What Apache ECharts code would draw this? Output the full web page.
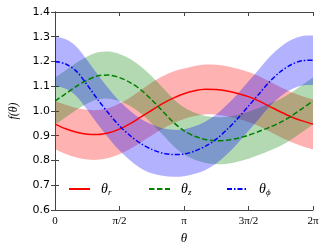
<!DOCTYPE html>
<html><head><meta charset="utf-8">
<script src="https://cdn.jsdelivr.net/npm/echarts@6/dist/echarts.min.js"></script>
<style>html,body{margin:0;padding:0;background:#fff}#c{width:330px;height:250px}</style>
</head><body><div id="c"></div>
<script>
// theta in degrees (0 .. 360)
var thetaDeg = [0,15,30,45,60,75,90,105,120,135,150,165,180,195,210,225,240,255,270,285,300,315,330,345,360];
var xTickLabels = ['0','π/2','π','3π/2','2π'];
var yTickLabels = ['0.6','0.7','0.8','0.9','1.0','1.1','1.2','1.3','1.4'];

var fR   = [0.947,0.928,0.914,0.906,0.905,0.912,0.927,0.949,0.976,1.003,1.030,1.052,1.070,1.082,1.088,1.087,1.081,1.071,1.058,1.040,1.018,0.996,0.976,0.960,0.947];
var fRup = [1.040,1.025,1.012,1.005,1.004,1.012,1.030,1.055,1.085,1.115,1.140,1.160,1.172,1.182,1.188,1.187,1.181,1.171,1.158,1.140,1.118,1.096,1.076,1.060,1.047];
var fRlo = [0.845,0.826,0.812,0.804,0.803,0.810,0.825,0.847,0.874,0.901,0.928,0.950,0.968,0.980,0.986,0.985,0.979,0.969,0.956,0.938,0.916,0.894,0.874,0.858,0.845];

var fZ   = [1.040,1.070,1.100,1.125,1.142,1.145,1.135,1.115,1.085,1.045,1.000,0.955,0.920,0.898,0.885,0.880,0.882,0.890,0.902,0.918,0.935,0.955,0.980,1.010,1.040];
var fZup = [1.135,1.165,1.195,1.220,1.237,1.240,1.230,1.210,1.180,1.140,1.095,1.050,1.015,0.993,0.980,0.975,0.977,0.985,0.997,1.013,1.030,1.050,1.075,1.105,1.135];
var fZlo = [0.945,0.975,1.005,1.030,1.047,1.050,1.040,1.020,0.990,0.950,0.905,0.860,0.825,0.803,0.790,0.785,0.787,0.795,0.807,0.823,0.840,0.860,0.885,0.915,0.945];

var fP   = [1.200,1.190,1.160,1.105,1.045,0.990,0.940,0.900,0.868,0.845,0.830,0.824,0.826,0.838,0.858,0.886,0.925,0.970,1.020,1.070,1.120,1.160,1.188,1.203,1.205];
var fPup = [1.300,1.290,1.260,1.205,1.145,1.090,1.040,1.000,0.968,0.945,0.930,0.924,0.926,0.938,0.958,0.986,1.025,1.070,1.120,1.170,1.220,1.260,1.288,1.303,1.305];
var fPlo = [1.100,1.090,1.060,1.005,0.945,0.890,0.840,0.800,0.768,0.748,0.738,0.734,0.736,0.746,0.762,0.788,0.825,0.870,0.920,0.970,1.020,1.060,1.088,1.103,1.105];

function pairs(arr){ return thetaDeg.map(function(t,i){ return [t, arr[i]]; }); }

// smooth path (Catmull-Rom -> cubic Bezier) through pixel points
function curvePath(pts, moveFirst){
  var d = (moveFirst ? 'M' : 'L') + pts[0][0] + ',' + pts[0][1];
  for (var i = 0; i < pts.length - 1; i++) {
    var p0 = pts[i > 0 ? i - 1 : i], p1 = pts[i], p2 = pts[i + 1], p3 = pts[i + 2 < pts.length ? i + 2 : i + 1];
    var c1x = p1[0] + (p2[0] - p0[0]) / 6, c1y = p1[1] + (p2[1] - p0[1]) / 6;
    var c2x = p2[0] - (p3[0] - p1[0]) / 6, c2y = p2[1] - (p3[1] - p1[1]) / 6;
    d += 'C' + c1x + ',' + c1y + ',' + c2x + ',' + c2y + ',' + p2[0] + ',' + p2[1];
  }
  return d;
}

function band(up, lo, color){
  var data = thetaDeg.map(function(t,i){ return [t, lo[i], up[i]]; });
  return {
    type:'custom', silent:true, z:1, data:data, clip:true,
    encode:{x:0, y:[1,2]},
    renderItem:function(params, api){
      if (params.dataIndex !== 0) return null;
      var top = [], bot = [];
      for (var i = 0; i < data.length; i++) {
        top.push(api.coord([data[i][0], data[i][2]]));
        bot.push(api.coord([data[i][0], data[i][1]]));
      }
      var d = curvePath(top, true) + curvePath(bot.reverse(), false) + 'Z';
      return {
        type:'path', shape:{pathData:d},
        style:{fill:color, stroke:null, lineWidth:0}
      };
    }
  };
}

var serif = 'Liberation Serif';
var frame = '#444';
var legendRich = {
  t:{fontFamily:serif, fontStyle:'italic', fontSize:14, color:'#000', lineHeight:18},
  s:{fontFamily:serif, fontStyle:'italic', fontSize:9, color:'#000', lineHeight:18, padding:[7,0,0,0]}
};
var subs = {r:'r', z:'z', phi:'ϕ'};
function legendItem(name, left){
  return {data:[name], left:left, top:176, itemWidth:21, itemHeight:12, itemGap:0,
    itemStyle:{opacity:0},
    textStyle:{rich:legendRich, padding:[0,0,0,6]},
    formatter:function(n){ return '{t|θ}{s|' + subs[n] + '}'; }};
}

var series = [
  band(fRup, fRlo, 'rgba(255,0,0,0.3)'),
  band(fZup, fZlo, 'rgba(0,128,0,0.3)'),
  band(fPup, fPlo, 'rgba(0,0,255,0.3)'),
  {name:'r', type:'line', data:pairs(fR), smooth:0.3, symbol:'none', z:5,
   lineStyle:{color:'#ff0000', width:1.5}, itemStyle:{color:'#ff0000'}},
  {name:'z', type:'line', data:pairs(fZ), smooth:0.3, symbol:'none', z:5,
   lineStyle:{color:'#008000', width:1.5, type:[5.5,2.5]}, itemStyle:{color:'#008000'}},
  {name:'phi', type:'line', data:pairs(fP), smooth:0.3, symbol:'none', z:5,
   lineStyle:{color:'#0000ff', width:1.5, type:[5,2,1.5,2]}, itemStyle:{color:'#0000ff'}}
];

var chart = echarts.init(document.getElementById('c'), null, {renderer:'canvas'});
chart.setOption({
  animation:false,
  grid:{left:49, right:17, top:12, bottom:38, containLabel:false},
  legend:[legendItem('r', 63), legendItem('z', 143), legendItem('phi', 221)],
  xAxis:[
    {type:'value', min:0, max:360, interval:90, position:'bottom',
     name:'θ', nameLocation:'middle', nameGap:22,
     nameTextStyle:{fontFamily:serif, fontStyle:'italic', fontSize:13, color:'#000'},
     axisLine:{lineStyle:{color:frame, width:1}},
     axisTick:{inside:true, length:4, lineStyle:{color:frame}},
     axisLabel:{margin:6, fontFamily:serif, fontSize:11, color:'#000',
       formatter:function(v){ return xTickLabels[Math.round(v/90)]; }},
     splitLine:{show:false}},
    {type:'value', min:0, max:360, interval:90, position:'top',
     axisLine:{lineStyle:{color:frame, width:1}},
     axisTick:{inside:true, length:4, lineStyle:{color:frame}},
     axisLabel:{show:false}, splitLine:{show:false}}
  ],
  yAxis:[
    {type:'value', min:0.6, max:1.4, interval:0.1, position:'left',
     name:'f(θ)', nameLocation:'middle', nameGap:35, nameRotate:90,
     nameTextStyle:{fontFamily:serif, fontStyle:'italic', fontSize:12, color:'#000'},
     axisLine:{show:true, lineStyle:{color:frame, width:1}},
     axisTick:{show:true, inside:true, length:4, lineStyle:{color:frame}},
     axisLabel:{margin:5, fontFamily:'DejaVu Sans', fontSize:11, color:'#000',
       formatter:function(v){ return yTickLabels[Math.round((v-0.6)*10)]; }},
     splitLine:{show:false}},
    {type:'value', min:0.6, max:1.4, interval:0.1, position:'right',
     axisLine:{show:true, lineStyle:{color:frame, width:1}},
     axisTick:{show:true, inside:true, length:4, lineStyle:{color:frame}},
     axisLabel:{show:false}, splitLine:{show:false}}
  ],
  series:series
});
</script></body></html>
